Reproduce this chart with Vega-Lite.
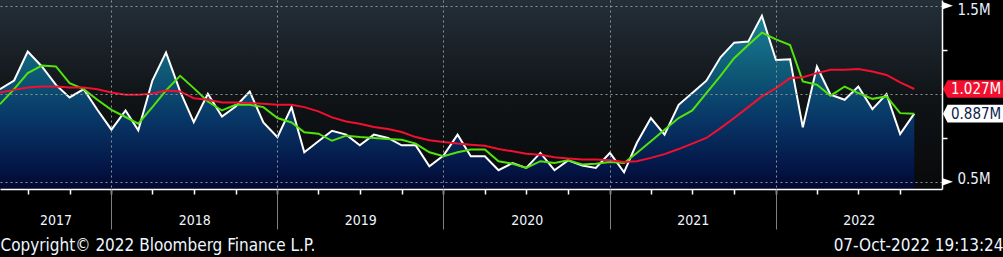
{
  "$schema": "https://vega.github.io/schema/vega-lite/v6.json",
  "width": 942,
  "height": 189,
  "autosize": {"type": "none"},
  "padding": {"left": 0, "top": 0, "right": 61, "bottom": 68},
  "background": "black",
  "config": {
    "view": {"stroke": null, "fill": {"gradient": "linear", "x1": 0, "y1": 0, "x2": 0, "y2": 1, "stops": [{"offset": 0, "color": "#242f39"}, {"offset": 0.5, "color": "#101417"}, {"offset": 1, "color": "#08090a"}]}},
    "font": "DejaVu Sans Condensed, Liberation Sans Narrow, DejaVu Sans, sans-serif"
  },
  "resolve": {"axis": {"x": "independent"}},
  "data": {"values": [
    {"d": "2017-05-01T00:00", "v": 1.026, "m3": 0.941, "m12": 1.007},
    {"d": "2017-06-01T00:00", "v": 1.075, "m3": 1.026, "m12": 1.022},
    {"d": "2017-07-01T00:00", "v": 1.240, "m3": 1.117, "m12": 1.036},
    {"d": "2017-08-01T00:00", "v": 1.155, "m3": 1.160, "m12": 1.041},
    {"d": "2017-09-01T00:00", "v": 1.050, "m3": 1.155, "m12": 1.041},
    {"d": "2017-10-01T00:00", "v": 0.979, "m3": 1.060, "m12": 1.036},
    {"d": "2017-11-01T00:00", "v": 1.026, "m3": 1.026, "m12": 1.036},
    {"d": "2017-12-01T00:00", "v": 0.909, "m3": 0.966, "m12": 1.026},
    {"d": "2018-01-01T00:00", "v": 0.796, "m3": 0.909, "m12": 1.007},
    {"d": "2018-02-01T00:00", "v": 0.905, "m3": 0.868, "m12": 0.994},
    {"d": "2018-03-01T00:00", "v": 0.792, "m3": 0.830, "m12": 0.994},
    {"d": "2018-04-01T00:00", "v": 1.075, "m3": 0.924, "m12": 1.000},
    {"d": "2018-05-01T00:00", "v": 1.234, "m3": 1.019, "m12": 1.019},
    {"d": "2018-06-01T00:00", "v": 1.013, "m3": 1.102, "m12": 1.013},
    {"d": "2018-07-01T00:00", "v": 0.839, "m3": 1.032, "m12": 0.975},
    {"d": "2018-08-01T00:00", "v": 1.000, "m3": 0.956, "m12": 0.966},
    {"d": "2018-09-01T00:00", "v": 0.871, "m3": 0.905, "m12": 0.951},
    {"d": "2018-10-01T00:00", "v": 0.928, "m3": 0.937, "m12": 0.951},
    {"d": "2018-11-01T00:00", "v": 1.013, "m3": 0.937, "m12": 0.947},
    {"d": "2018-12-01T00:00", "v": 0.837, "m3": 0.924, "m12": 0.943},
    {"d": "2019-01-01T00:00", "v": 0.753, "m3": 0.862, "m12": 0.937},
    {"d": "2019-02-01T00:00", "v": 0.924, "m3": 0.837, "m12": 0.937},
    {"d": "2019-03-01T00:00", "v": 0.668, "m3": 0.781, "m12": 0.924},
    {"d": "2019-04-01T00:00", "v": 0.730, "m3": 0.773, "m12": 0.900},
    {"d": "2019-05-01T00:00", "v": 0.790, "m3": 0.733, "m12": 0.866},
    {"d": "2019-06-01T00:00", "v": 0.768, "m3": 0.762, "m12": 0.843},
    {"d": "2019-07-01T00:00", "v": 0.707, "m3": 0.754, "m12": 0.830},
    {"d": "2019-08-01T00:00", "v": 0.768, "m3": 0.749, "m12": 0.811},
    {"d": "2019-09-01T00:00", "v": 0.749, "m3": 0.743, "m12": 0.800},
    {"d": "2019-10-01T00:00", "v": 0.707, "m3": 0.739, "m12": 0.783},
    {"d": "2019-11-01T00:00", "v": 0.707, "m3": 0.717, "m12": 0.754},
    {"d": "2019-12-01T00:00", "v": 0.588, "m3": 0.668, "m12": 0.736},
    {"d": "2020-01-01T00:00", "v": 0.649, "m3": 0.645, "m12": 0.726},
    {"d": "2020-02-01T00:00", "v": 0.768, "m3": 0.668, "m12": 0.717},
    {"d": "2020-03-01T00:00", "v": 0.645, "m3": 0.683, "m12": 0.711},
    {"d": "2020-04-01T00:00", "v": 0.645, "m3": 0.683, "m12": 0.705},
    {"d": "2020-05-01T00:00", "v": 0.566, "m3": 0.617, "m12": 0.686},
    {"d": "2020-06-01T00:00", "v": 0.607, "m3": 0.603, "m12": 0.673},
    {"d": "2020-07-01T00:00", "v": 0.579, "m3": 0.579, "m12": 0.660},
    {"d": "2020-08-01T00:00", "v": 0.664, "m3": 0.617, "m12": 0.654},
    {"d": "2020-09-01T00:00", "v": 0.566, "m3": 0.607, "m12": 0.639},
    {"d": "2020-10-01T00:00", "v": 0.622, "m3": 0.622, "m12": 0.632},
    {"d": "2020-11-01T00:00", "v": 0.592, "m3": 0.598, "m12": 0.626},
    {"d": "2020-12-01T00:00", "v": 0.579, "m3": 0.603, "m12": 0.626},
    {"d": "2021-01-01T00:00", "v": 0.664, "m3": 0.613, "m12": 0.622},
    {"d": "2021-02-01T00:00", "v": 0.554, "m3": 0.607, "m12": 0.613},
    {"d": "2021-03-01T00:00", "v": 0.720, "m3": 0.664, "m12": 0.617},
    {"d": "2021-04-01T00:00", "v": 0.862, "m3": 0.730, "m12": 0.636},
    {"d": "2021-05-01T00:00", "v": 0.768, "m3": 0.795, "m12": 0.657},
    {"d": "2021-06-01T00:00", "v": 0.937, "m3": 0.862, "m12": 0.686},
    {"d": "2021-07-01T00:00", "v": 1.004, "m3": 0.905, "m12": 0.717},
    {"d": "2021-08-01T00:00", "v": 1.074, "m3": 1.004, "m12": 0.749},
    {"d": "2021-09-01T00:00", "v": 1.207, "m3": 1.102, "m12": 0.805},
    {"d": "2021-10-01T00:00", "v": 1.290, "m3": 1.202, "m12": 0.862},
    {"d": "2021-11-01T00:00", "v": 1.296, "m3": 1.277, "m12": 0.924},
    {"d": "2021-12-01T00:00", "v": 1.443, "m3": 1.347, "m12": 0.985},
    {"d": "2022-01-01T00:00", "v": 1.192, "m3": 1.309, "m12": 1.032},
    {"d": "2022-02-01T00:00", "v": 1.196, "m3": 1.277, "m12": 1.089},
    {"d": "2022-03-01T00:00", "v": 0.809, "m3": 1.070, "m12": 1.094},
    {"d": "2022-04-01T00:00", "v": 1.155, "m3": 1.051, "m12": 1.117},
    {"d": "2022-05-01T00:00", "v": 0.994, "m3": 0.989, "m12": 1.136},
    {"d": "2022-06-01T00:00", "v": 0.966, "m3": 1.041, "m12": 1.136},
    {"d": "2022-07-01T00:00", "v": 1.041, "m3": 1.004, "m12": 1.141},
    {"d": "2022-08-01T00:00", "v": 0.913, "m3": 0.971, "m12": 1.126},
    {"d": "2022-09-01T00:00", "v": 0.998, "m3": 0.985, "m12": 1.107},
    {"d": "2022-10-01T00:00", "v": 0.771, "m3": 0.890, "m12": 1.064},
    {"d": "2022-11-01T00:00", "v": 0.887, "m3": 0.886, "m12": 1.027}
  ]},
  "layer": [
    {
      "mark": {"type": "area", "line": false, "color": {"gradient": "linear", "x1": 0, "y1": 0, "x2": 0, "y2": 1, "stops": [{"offset": 0, "color": "#1a8099"}, {"offset": 0.3, "color": "#0f5c78"}, {"offset": 0.6, "color": "#083666"}, {"offset": 0.85, "color": "#04194a"}, {"offset": 1, "color": "#020830"}]}},
      "encoding": {
        "x": {"field": "d", "type": "temporal",
          "scale": {"domain": [{"year": 2017, "month": 5, "date": 1}, {"year": 2023, "month": 1, "date": 1}], "nice": false},
          "axis": {
            "orient": "bottom", "zindex": 1,
            "values": [
              {"year": 2017, "month": 7, "date": 1}, {"year": 2017, "month": 10, "date": 1},
              {"year": 2018, "month": 1, "date": 1}, {"year": 2018, "month": 4, "date": 1}, {"year": 2018, "month": 7, "date": 1}, {"year": 2018, "month": 10, "date": 1},
              {"year": 2019, "month": 1, "date": 1}, {"year": 2019, "month": 4, "date": 1}, {"year": 2019, "month": 7, "date": 1}, {"year": 2019, "month": 10, "date": 1},
              {"year": 2020, "month": 1, "date": 1}, {"year": 2020, "month": 4, "date": 1}, {"year": 2020, "month": 7, "date": 1}, {"year": 2020, "month": 10, "date": 1},
              {"year": 2021, "month": 1, "date": 1}, {"year": 2021, "month": 4, "date": 1}, {"year": 2021, "month": 7, "date": 1}, {"year": 2021, "month": 10, "date": 1},
              {"year": 2022, "month": 1, "date": 1}, {"year": 2022, "month": 4, "date": 1}, {"year": 2022, "month": 7, "date": 1}, {"year": 2022, "month": 10, "date": 1}
            ],
            "domain": true, "domainColor": "#ffffff", "domainWidth": 1.5,
            "ticks": true, "tickSize": 5, "tickWidth": 1.5, "tickColor": "#ffffff",
            "grid": false, "labels": false,
            "title": "07-Oct-2022 19:13:24", "titleX": 1003, "titleY": 56, "titleAlign": "right", "titleBaseline": "middle", "titleAnchor": null, "titleFontSize": 17, "titleFontWeight": "normal", "titleColor": "#eef6ff"
          }
        },
        "y": {"field": "v", "type": "quantitative",
          "scale": {"domain": [0.4592, 1.5323], "nice": false, "zero": false},
          "axis": {
            "orient": "right", "zindex": 1,
            "values": [0.5, 0.75, 1, 1.25, 1.5],
            "domain": true, "domainColor": "#ffffff", "domainWidth": 1.5,
            "tickSize": 5, "tickColor": "#ffffff", "tickWidth": 1.5,
            "tickOpacity": {"condition": {"test": "datum.value==0.75 || datum.value==1.25", "value": 1}, "value": 0},
            "grid": true, "gridColor": "#8d9297", "gridDash": [2, 3], "gridWidth": 1,
            "gridOpacity": {"condition": {"test": "datum.value==0.75 || datum.value==1.25", "value": 0}, "value": 1},
            "labelExpr": "datum.value==1.5 ? '1.5M' : datum.value==0.5 ? '0.5M' : ''",
            "labelPadding": 10, "labelFontSize": 15, "labelColor": "#e6f2ff", "labelBaseline": "middle",
            "labelOffset": {"condition": {"test": "datum.value==1.5", "value": 4}, "value": -3},
            "labelOverlap": false, "labelBound": false, "labelFlush": false,
            "title": "Copyright© 2022 Bloomberg Finance L.P.", "titleAngle": 0, "titleX": -942, "titleY": 245, "titleAlign": "left", "titleBaseline": "middle", "titleAnchor": null, "titleFontSize": 17, "titleFontWeight": "normal", "titleColor": "#eef6ff"
          }
        },
        "y2": {"datum": 0.4592}
      }
    },
    {
      "mark": {"type": "line", "color": "#ffffff", "strokeWidth": 2},
      "encoding": {
        "x": {"field": "d", "type": "temporal", "scale": {"domain": [{"year": 2017, "month": 5, "date": 1}, {"year": 2023, "month": 1, "date": 1}], "nice": false},
          "axis": {
            "orient": "bottom", "zindex": 1,
            "values": [{"year": 2018, "month": 1, "date": 1}, {"year": 2019, "month": 1, "date": 1}, {"year": 2020, "month": 1, "date": 1}, {"year": 2021, "month": 1, "date": 1}, {"year": 2022, "month": 1, "date": 1}],
            "domain": false, "labels": false, "title": null,
            "ticks": true, "tickSize": 40, "tickWidth": 1, "tickColor": "#808080",
            "grid": true, "gridColor": "#8d9297", "gridDash": [2, 3], "gridWidth": 1
          }
        },
        "y": {"field": "v", "type": "quantitative", "scale": {"domain": [0.4592, 1.5323], "nice": false, "zero": false}}
      }
    },
    {
      "mark": {"type": "line", "color": "#52e30c", "strokeWidth": 2},
      "encoding": {
        "x": {"field": "d", "type": "temporal", "scale": {"domain": [{"year": 2017, "month": 5, "date": 1}, {"year": 2023, "month": 1, "date": 1}], "nice": false},
          "axis": {
            "orient": "bottom", "zindex": 1,
            "values": [{"year": 2017, "month": 8, "date": 31}, {"year": 2018, "month": 7, "date": 2}, {"year": 2019, "month": 7, "date": 2}, {"year": 2020, "month": 7, "date": 2}, {"year": 2021, "month": 7, "date": 2}, {"year": 2022, "month": 7, "date": 2}],
            "format": "%Y",
            "domain": false, "ticks": false, "grid": false, "title": null,
            "labelPadding": 24, "labelFontSize": 14, "labelColor": "#eef6ff", "labelOverlap": false, "labelFlush": false, "labelBound": false, "labelAlign": "center", "labelBaseline": "top"
          }
        },
        "y": {"field": "m3", "type": "quantitative", "scale": {"domain": [0.4592, 1.5323], "nice": false, "zero": false}}
      }
    },
    {
      "mark": {"type": "line", "color": "#f2102e", "strokeWidth": 2},
      "encoding": {
        "x": {"field": "d", "type": "temporal", "scale": {"domain": [{"year": 2017, "month": 5, "date": 1}, {"year": 2023, "month": 1, "date": 1}], "nice": false}, "axis": null},
        "y": {"field": "m12", "type": "quantitative", "scale": {"domain": [0.4592, 1.5323], "nice": false, "zero": false}}
      }
    },
    {
      "data": {"values": [{"v": 0.5}, {"v": 1.5}]},
      "mark": {"type": "point", "shape": "M-1,-0.7L1,0L-1,0.7Z", "size": 121, "filled": true, "color": "#ffffff", "opacity": 1, "strokeWidth": 0, "xOffset": 5.5},
      "encoding": {
        "x": {"datum": {"year": 2023, "month": 1, "date": 1}, "type": "temporal", "scale": {"domain": [{"year": 2017, "month": 5, "date": 1}, {"year": 2023, "month": 1, "date": 1}], "nice": false}, "axis": null},
        "y": {"field": "v", "type": "quantitative", "scale": {"domain": [0.4592, 1.5323], "nice": false, "zero": false}}
      }
    },
    {
      "data": {"values": [{"s": "ma12", "v": 1.027, "t": "1.027M"}, {"s": "last", "v": 0.887, "t": "0.887M"}]},
      "mark": {"type": "point", "shape": "M0,0L0.45,-0.88L6.2,-0.88L6.2,0.88L0.45,0.88Z", "size": 400, "filled": true, "opacity": 1, "strokeWidth": 0, "xOffset": 1},
      "encoding": {
        "x": {"datum": {"year": 2023, "month": 1, "date": 1}, "type": "temporal", "scale": {"domain": [{"year": 2017, "month": 5, "date": 1}, {"year": 2023, "month": 1, "date": 1}], "nice": false}, "axis": null},
        "y": {"field": "v", "type": "quantitative", "scale": {"domain": [0.4592, 1.5323], "nice": false, "zero": false}},
        "color": {"condition": {"test": "datum.s=='ma12'", "value": "#f2102e"}, "value": "#ffffff"}
      }
    },
    {
      "data": {"values": [{"s": "ma12", "v": 1.027, "t": "1.027M"}, {"s": "last", "v": 0.887, "t": "0.887M"}]},
      "mark": {"type": "text", "align": "left", "baseline": "middle", "fontSize": 15, "xOffset": 9},
      "encoding": {
        "x": {"datum": {"year": 2023, "month": 1, "date": 1}, "type": "temporal", "scale": {"domain": [{"year": 2017, "month": 5, "date": 1}, {"year": 2023, "month": 1, "date": 1}], "nice": false}, "axis": null},
        "y": {"field": "v", "type": "quantitative", "scale": {"domain": [0.4592, 1.5323], "nice": false, "zero": false}},
        "text": {"field": "t"},
        "color": {"condition": {"test": "datum.s=='ma12'", "value": "#ffffff"}, "value": "#0b1d4d"}
      }
    }
  ]
}
